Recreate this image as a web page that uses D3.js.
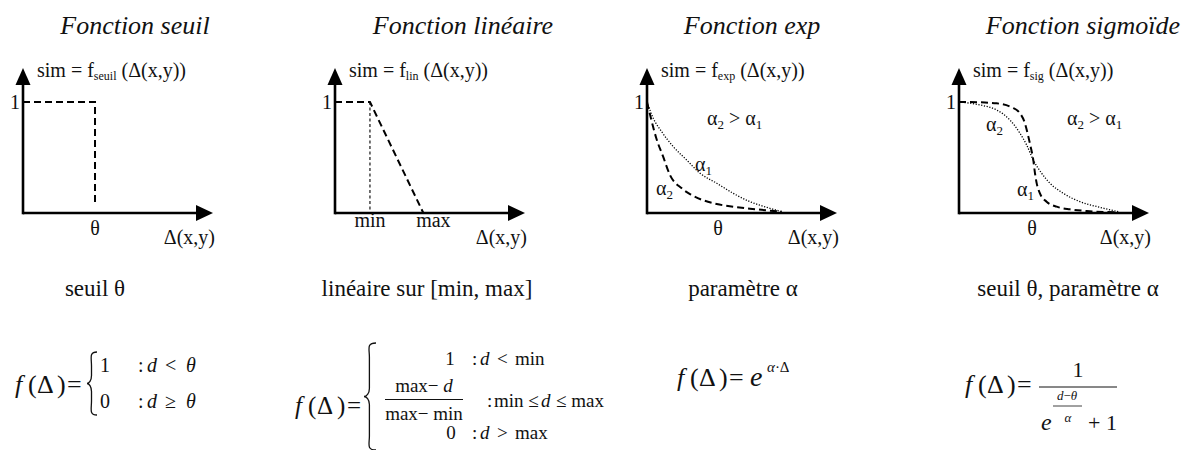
<!DOCTYPE html>
<html>
<head>
<meta charset="utf-8">
<script src="https://cdn.jsdelivr.net/npm/d3@7"></script>
<style>
  body { margin: 0; background: #fff; }
  svg { display: block; }
</style>
</head>
<body>
<svg id="chart" width="1191" height="450"></svg>
<script>
// ---- chart content -------------------------------------------------------
const panelTitles = ["Fonction seuil", "Fonction linéaire", "Fonction exp", "Fonction sigmoïde"];
const functionNames = ["seuil", "lin", "exp", "sig"];
const captions = ["seuil θ", "linéaire sur [min, max]", "paramètre α", "seuil θ, paramètre α"];

// tick labels on the Δ axis (value on the axis, text)
const seuilTicks = [{ v: 0.379, t: "θ" }];
const linTicks = [{ v: 0.184, t: "min" }, { v: 0.465, t: "max" }];
const expTicks = [{ v: 0.374, t: "θ" }];
const sigTicks = [{ v: 0.384, t: "θ" }];

// threshold step: 1 until θ, then drop
const seuilStep = [[0, 1], [0.379, 1], [0.379, 0.065]];
// linear ramp between min and max, with a guide at min
const linRamp = [[0, 1], [0.184, 1], [0.465, 0]];
const linGuide = [[0.184, 1], [0.184, 0]];

// exponential decay, steep (α2, dashed) and gentle (α1, dotted)
const expSteepX = [0, 0.023, 0.049, 0.085, 0.121, 0.183, 0.235, 0.367, 0.454, 0.542, 0.63, 0.709];
const expSteepY = [1, 0.838, 0.673, 0.507, 0.342, 0.222, 0.162, 0.081, 0.057, 0.039, 0.024, 0.012];
const expGentleX = [0, 0.033, 0.077, 0.138, 0.209, 0.279, 0.367, 0.454, 0.542, 0.63, 0.709];
const expGentleY = [1, 0.853, 0.733, 0.598, 0.477, 0.358, 0.268, 0.177, 0.102, 0.051, 0.012];

// sigmoid, sharp (dashed) and smooth (dotted)
const sigSharpX = [0, 0.111, 0.198, 0.277, 0.321, 0.347, 0.365, 0.377, 0.391, 0.4, 0.409, 0.426, 0.461, 0.514, 0.584, 0.672, 0.838];
const sigSharpY = [1, 0.997, 0.988, 0.952, 0.898, 0.808, 0.688, 0.598, 0.477, 0.357, 0.267, 0.177, 0.102, 0.057, 0.033, 0.018, 0.006];
const sigSmoothX = [0, 0.111, 0.198, 0.268, 0.321, 0.356, 0.391, 0.435, 0.479, 0.549, 0.637, 0.742, 0.838];
const sigSmoothY = [1, 0.973, 0.928, 0.838, 0.718, 0.613, 0.477, 0.358, 0.268, 0.177, 0.102, 0.051, 0.012];

const zip = (xs, ys) => xs.map((v, i) => [v, ys[i]]);

// ---- drawing --------------------------------------------------------------
const SERIF = "'Times New Roman', 'Liberation Serif', Tinos, 'DejaVu Serif', serif";
const svg = d3.select("#chart").attr("font-family", SERIF);

function put(g, x, y, str, size, opts = {}) {
  return g.append("text")
    .attr("x", x).attr("y", y)
    .attr("font-family", SERIF)
    .attr("fill", "#111")
    .attr("font-size", size)
    .attr("font-style", opts.italic ? "italic" : "normal")
    .attr("text-anchor", opts.anchor || "start")
    .text(str);
}
function textAt(g, x, y, size, anchor) {
  return g.append("text").attr("x", x).attr("y", y)
    .attr("font-family", SERIF).attr("fill", "#111")
    .attr("font-size", size).attr("text-anchor", anchor || "start");
}

// symbol with a lowered index, e.g. α₂
function indexed(g, x, y, base, idx, size) {
  const t = textAt(g, x, y, size);
  t.append("tspan").text(base);
  t.append("tspan").attr("font-size", size * 0.65).attr("dy", 4).text(idx);
  return t;
}

const dashed = { width: 2, dash: "7,4" };
const dotted = { width: 1.3, dash: "1.2,1.6" };
const fine = { width: 1.1, dash: "3,2.5" };

const panelData = [
  { ticks: seuilTicks, titleX: 135, capX: 95, lines: [{ pts: seuilStep, st: dashed, curve: d3.curveLinear }] },
  { ticks: linTicks, titleX: 463, capX: 427, lines: [
      { pts: linGuide, st: fine, curve: d3.curveLinear },
      { pts: linRamp, st: dashed, curve: d3.curveLinear }] },
  { ticks: expTicks, titleX: 752, capX: 743, lines: [
      { pts: zip(expGentleX, expGentleY), st: dotted, curve: d3.curveMonotoneX },
      { pts: zip(expSteepX, expSteepY), st: dashed, curve: d3.curveMonotoneX }] },
  { ticks: sigTicks, titleX: 1083, capX: 1068, lines: [
      { pts: zip(sigSmoothX, sigSmoothY), st: dotted, curve: d3.curveMonotoneX },
      { pts: zip(sigSharpX, sigSharpY), st: dashed, curve: d3.curveMonotoneX }] }
];

panelData.forEach((p, i) => {
  const ax = 23 + i * 312;
  const g = svg.append("g");
  const x = d3.scaleLinear().domain([0, 1]).range([ax, ax + 190]);
  const y = d3.scaleLinear().domain([0, 1]).range([213, 102]);
  const yTop = 1.306;

  // title and caption
  put(g, p.titleX, 34, panelTitles[i], 26, { italic: true, anchor: "middle" });
  put(g, p.capX, 296, captions[i], 23, { anchor: "middle" });

  // curves
  p.lines.forEach(l => {
    g.append("path")
      .attr("d", d3.line().x(d => x(d[0])).y(d => y(d[1])).curve(l.curve)(l.pts))
      .attr("fill", "none").attr("stroke", "#000")
      .attr("stroke-width", l.st.width)
      .attr("stroke-dasharray", l.st.dash);
  });

  // axes with arrow heads
  g.append("line").attr("x1", x(0)).attr("x2", x(1) - 12)
    .attr("y1", y(0)).attr("y2", y(0)).attr("stroke", "#000").attr("stroke-width", 2.6);
  g.append("line").attr("x1", x(0)).attr("x2", x(0))
    .attr("y1", y(0) + 1.3).attr("y2", y(yTop) + 12).attr("stroke", "#000").attr("stroke-width", 2.6);
  g.append("path").attr("fill", "#000")
    .attr("d", `M${x(1)},${y(0)}L${x(1) - 17},${y(0) - 8}L${x(1) - 17},${y(0) + 8}Z`);
  g.append("path").attr("fill", "#000")
    .attr("d", `M${x(0)},${y(yTop)}L${x(0) - 7.5},${y(yTop) + 17}L${x(0) + 7.5},${y(yTop) + 17}Z`);

  // axis texts
  put(g, x(0) - 3, y(1) + 7, "1", 20, { anchor: "end" });
  const lab = textAt(g, x(0) + 14, 77, 20);
  lab.append("tspan").text("sim = f");
  lab.append("tspan").attr("font-size", 12).attr("dy", 3).text(functionNames[i]);
  lab.append("tspan").attr("dy", -3).text(" (Δ(x,y))");
  put(g, x(1) + 2, 244, "Δ(x,y)", 20, { anchor: "end" });

  p.ticks.forEach(tk => {
    const off = tk.t === "max" ? 10 : 0;
    put(g, x(tk.v) + off, tk.t === "θ" ? 235 : 227, tk.t, 20, { anchor: "middle" });
  });
});

// alpha annotations
const ann = svg.append("g");
[[647, 60, 125], [959, 108, 125]].forEach(([ax, dx, yy]) => {
  const t = textAt(ann, ax + dx, yy, 20);
  t.append("tspan").text("α");
  t.append("tspan").attr("font-size", 13).attr("dy", 4).text("2");
  t.append("tspan").attr("dy", -4).text(" > α");
  t.append("tspan").attr("font-size", 13).attr("dy", 4).text("1");
});
indexed(ann, 695, 171, "α", "1", 20);
indexed(ann, 656, 195, "α", "2", 20);
indexed(ann, 986, 131, "α", "2", 20);
indexed(ann, 1017, 196, "α", "1", 20);

// ---- formulas ----
const fm = svg.append("g");
function lhs(x0, base, size) {
  put(fm, x0, base, "f", size, { italic: true });
  put(fm, x0 + 13, base, "(", size);
  put(fm, x0 + 22, base, "Δ", size);
  put(fm, x0 + 42, base, ")", size);
  put(fm, x0 + 52, base, "=", size);
}
function brace(x0, y0, y1, w) {
  const m = (y0 + y1) / 2;
  const path = `M${x0 + w},${y0} C${x0 + w * 0.2},${y0} ${x0 + w * 0.45},${y0 + 6} ${x0 + w * 0.45},${y0 + 14}
    L${x0 + w * 0.45},${m - 8} C${x0 + w * 0.45},${m - 3} ${x0 + w * 0.2},${m} ${x0},${m}
    C${x0 + w * 0.2},${m} ${x0 + w * 0.45},${m + 3} ${x0 + w * 0.45},${m + 8}
    L${x0 + w * 0.45},${y1 - 14} C${x0 + w * 0.45},${y1 - 6} ${x0 + w * 0.2},${y1} ${x0 + w},${y1}`;
  fm.append("path").attr("d", path).attr("fill", "none").attr("stroke", "#111").attr("stroke-width", 1.3);
}

// threshold
lhs(15, 393, 26);
brace(87, 352, 415, 10);
put(fm, 100, 372, "1", 20);
put(fm, 138, 372, ":", 20); put(fm, 147, 372, "d", 20, { italic: true });
put(fm, 165, 372, "<", 20); put(fm, 186, 372, "θ", 20, { italic: true });
put(fm, 100, 408, "0", 20);
put(fm, 138, 408, ":", 20); put(fm, 147, 408, "d", 20, { italic: true });
put(fm, 165, 408, "≥", 20); put(fm, 186, 408, "θ", 20, { italic: true });

// linear
lhs(295, 414, 25);
brace(364, 343, 450, 12);
put(fm, 450, 365, "1", 19, { anchor: "middle" });
put(fm, 472, 365, ":", 19); put(fm, 480, 365, "d", 19, { italic: true });
put(fm, 497, 365, "<", 19); put(fm, 515, 365, "min", 19);
const num = textAt(fm, 424, 392, 19, "middle");
num.append("tspan").text("max− ");
num.append("tspan").attr("font-style", "italic").text("d");
fm.append("line").attr("x1", 385).attr("x2", 463).attr("y1", 399.5).attr("y2", 399.5)
  .attr("stroke", "#111").attr("stroke-width", 1);
put(fm, 424, 420, "max− min", 19, { anchor: "middle" });
put(fm, 487, 407, ":", 19); put(fm, 494, 407, "min ≤", 19);
put(fm, 541, 407, "d", 19, { italic: true }); put(fm, 556, 407, "≤ max", 19);
put(fm, 451, 439, "0", 19, { anchor: "middle" });
put(fm, 472, 439, ":", 19); put(fm, 480, 439, "d", 19, { italic: true });
put(fm, 497, 439, ">", 19); put(fm, 515, 439, "max", 19);

// exponential
lhs(677, 386, 26);
put(fm, 750, 386, "e", 28, { italic: true });
const sup = textAt(fm, 767, 372, 15);
sup.append("tspan").attr("font-style", "italic").text("α");
sup.append("tspan").text("·Δ");

// sigmoid
lhs(965, 393, 26);
put(fm, 1078, 377, "1", 22, { anchor: "middle" });
fm.append("line").attr("x1", 1039).attr("x2", 1117).attr("y1", 387).attr("y2", 387)
  .attr("stroke", "#111").attr("stroke-width", 1);
put(fm, 1041, 430, "e", 24, { italic: true });
const ex = textAt(fm, 1067, 400, 13, "middle");
ex.append("tspan").attr("font-style", "italic").text("d");
ex.append("tspan").text("−");
ex.append("tspan").attr("font-style", "italic").text("θ");
fm.append("line").attr("x1", 1053).attr("x2", 1082).attr("y1", 406).attr("y2", 406)
  .attr("stroke", "#111").attr("stroke-width", 0.8);
put(fm, 1068, 422, "α", 13, { italic: true, anchor: "middle" });
put(fm, 1088, 430, "+", 22); put(fm, 1106, 430, "1", 22);
</script>
</body>
</html>
